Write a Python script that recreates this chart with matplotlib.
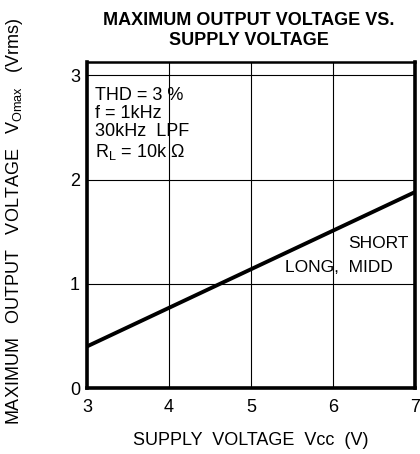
import numpy as np
import matplotlib
matplotlib.use('Agg')
import matplotlib.pyplot as plt

# данные
vcc = [3, 7]
vomax = [0.40, 1.88]
xticks = [3, 4, 5, 6, 7]
yticks = [0, 1, 2, 3]

plt.rcParams['font.family'] = ['Liberation Sans', 'DejaVu Sans']

fig = plt.figure(figsize=(4.2, 4.54), dpi=100)
ax = fig.add_axes([0.207, 0.145, 0.781, 0.718])

ax.plot(vcc, vomax, color='black', linewidth=2.8, solid_capstyle='butt')

ax.set_xlim(3, 7)
ax.set_ylim(0, 3.125)
ax.set_xticks(xticks)
ax.set_yticks(yticks)
ax.tick_params(axis='x', length=0, labelsize=13, pad=8)
ax.tick_params(axis='y', length=0, labelsize=13, pad=5)
ax.grid(True, color='black', linewidth=0.8)

for side in ['left', 'bottom', 'right']:
    ax.spines[side].set_linewidth(2.6)
ax.spines['top'].set_linewidth(1.8)

ax.text(0.024, 0.925, 'THD = 3 %\nf = 1kHz\n30kHz  LPF\nR$_\\mathregular{L}$ = 10k \u03a9',
        transform=ax.transAxes, fontsize=13, va='top', ha='left', linespacing=1.1)
ax.text(0.979, 0.445, 'SHORT', transform=ax.transAxes, fontsize=12.5, ha='right', va='center')
ax.text(0.933, 0.371, 'LONG,  MIDD', transform=ax.transAxes, fontsize=12.5, ha='right', va='center')

fig.text(0.593, 0.933, 'MAXIMUM OUTPUT VOLTAGE VS.\nSUPPLY VOLTAGE', fontsize=13,
         fontweight='bold', ha='center', va='center', linespacing=1.2)
fig.text(0.598, 0.03, 'SUPPLY  VOLTAGE  Vcc  (V)', fontsize=13, ha='center', va='center')
fig.text(0.035, 0.513, 'MAXIMUM   OUTPUT   VOLTAGE   V$_\\mathregular{Omax}$   (Vrms)',
         fontsize=13, rotation=90, ha='center', va='center')

fig.savefig('out.png', dpi=100)
